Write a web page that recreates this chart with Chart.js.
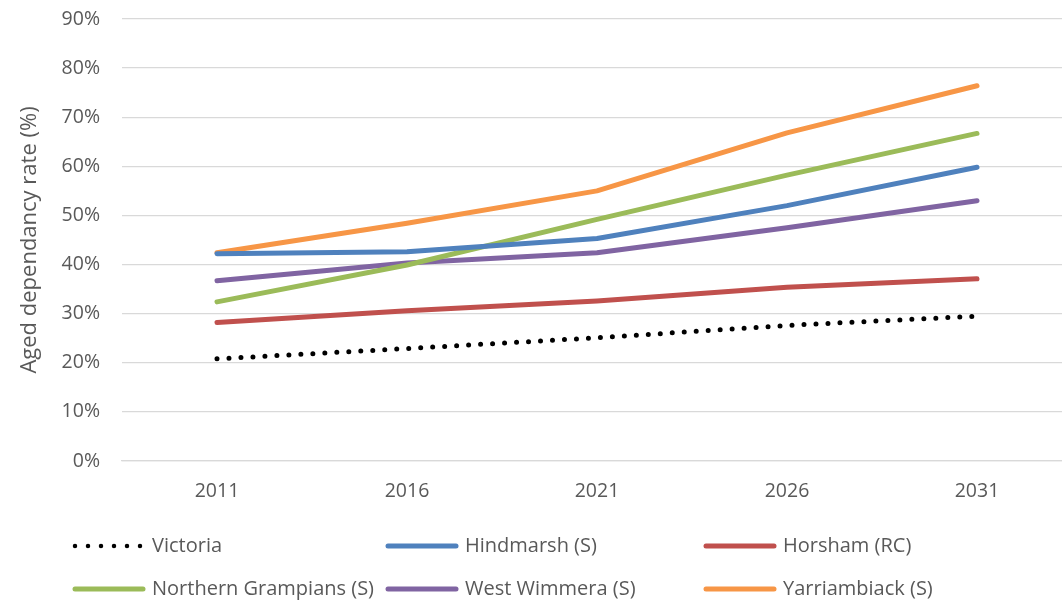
<!DOCTYPE html>
<html>
<head>
<meta charset="utf-8">
<script src="https://cdn.jsdelivr.net/npm/chart.js@4.4.0/dist/chart.umd.min.js"></script>
<style>
    body { margin: 0; overflow: hidden; background: #fff; }
    #wrap { width: 1062px; height: 605px; overflow: hidden; }
</style>
</head>
<body>
<div id="wrap"><canvas id="chart_canvas" width="1072" height="605"></canvas></div>
<script>
const years = ['2011', '2016', '2021', '2026', '2031']
const yTicks = [0, 10, 20, 30, 40, 50, 60, 70, 80, 90]

const victoria = [20.8, 22.9, 25.1, 27.6, 29.5]
const hindmarsh = [42.2, 42.6, 45.3, 52.0, 59.8]
const horsham = [28.2, 30.6, 32.6, 35.4, 37.1]
const northernGrampians = [32.4, 39.9, 49.2, 58.2, 66.7]
const westWimmera = [36.7, 40.3, 42.4, 47.5, 53.0]
const yarriambiack = [42.4, 48.4, 55.0, 66.8, 76.4]

const seriesNames = ['Victoria', 'Hindmarsh (S)', 'Horsham (RC)', 'Northern Grampians (S)', 'West Wimmera (S)', 'Yarriambiack (S)']
const seriesColors = ['#000000', '#4F81BD', '#C0504D', '#9BBB59', '#8064A2', '#F79646']
const seriesData = [victoria, hindmarsh, horsham, northernGrampians, westWimmera, yarriambiack]

const FONT = '"Open Sans", "Noto Sans", sans-serif'

function makeDataset(i) {
    const dotted = i === 0
    return {
        label: seriesNames[i],
        data: seriesData[i],
        borderColor: seriesColors[i],
        backgroundColor: seriesColors[i],
        borderWidth: 5,
        borderCapStyle: 'round',
        borderJoinStyle: 'round',
        borderDash: dotted ? [0, 12] : [],
        pointRadius: 0,
        tension: 0,
        fill: false
    }
}

// legend laid out in a 3 x 2 grid like the original
const legendGrid = {
    id: 'legendGrid',
    afterDraw(chart) {
        const ctx = chart.ctx
        const cols = [73, 386, 704]
        const rows = [546, 589]
        ctx.save()
        chart.data.datasets.forEach((ds, i) => {
            const x = cols[i % 3]
            const y = rows[Math.floor(i / 3)]
            ctx.strokeStyle = ds.borderColor
            ctx.lineWidth = 5
            ctx.lineCap = 'round'
            if (i === 0) {
                ctx.lineWidth = 4.5
                ctx.setLineDash([0, 13])
                ctx.beginPath()
                ctx.moveTo(x + 2, y)
                ctx.lineTo(x + 68, y)
                ctx.stroke()
                ctx.setLineDash([])
            } else {
                ctx.beginPath()
                ctx.moveTo(x + 2, y)
                ctx.lineTo(x + 70, y)
                ctx.stroke()
            }
            ctx.fillStyle = '#595959'
            ctx.font = '20px ' + FONT
            ctx.textBaseline = 'middle'
            ctx.fillText(ds.label, x + 79, y)
        })
        ctx.restore()
    }
}

const chart = new Chart(document.getElementById('chart_canvas'), {
    type: 'line',
    data: {
        labels: years,
        datasets: seriesData.map((d, i) => makeDataset(i))
    },
    options: {
        responsive: false,
        animation: false,
        layout: {
            padding: { top: 19, right: 0, left: 0, bottom: 0 }
        },
        plugins: {
            legend: { display: false },
            tooltip: { enabled: false }
        },
        scales: {
            x: {
                offset: true,
                grid: { display: false, drawTicks: false },
                border: { display: true, color: '#D9D9D9', width: 1.3 },
                ticks: {
                    color: '#595959',
                    font: { family: FONT, size: 19.5 },
                    padding: 19
                },
                afterFit: s => { s.height = 144; s.paddingLeft = 0; s.paddingRight = 0 }
            },
            y: {
                min: 0,
                max: 90,
                afterBuildTicks: s => { s.ticks = yTicks.map(v => ({ value: v })) },
                grid: { color: '#D9D9D9', lineWidth: 1.3, drawTicks: false },
                border: { display: false },
                ticks: {
                    color: '#595959',
                    font: { family: FONT, size: 19.5 },
                    padding: 22,
                    callback: v => v + '%'
                },
                title: {
                    display: true,
                    text: 'Aged dependancy rate (%)',
                    color: '#595959',
                    font: { family: FONT, size: 22 },
                    padding: { top: 17, bottom: 0 }
                },
                afterFit: s => { s.width = 122; s.paddingTop = 0; s.paddingBottom = 0 }
            }
        }
    },
    plugins: [legendGrid]
})
</script>
</body>
</html>
